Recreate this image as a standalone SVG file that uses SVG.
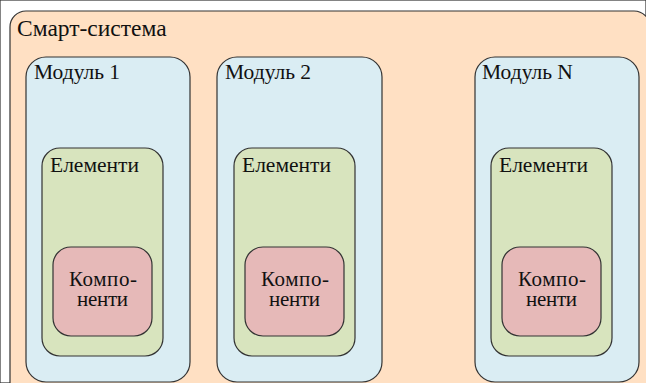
<svg xmlns="http://www.w3.org/2000/svg" width="646" height="383" viewBox="0 0 646 383">
<style>
rect{stroke:#333;stroke-width:1.2}
.sys{fill:#FFE0C3}
.mod{fill:#DAEDF3}
.el{fill:#D8E4BE}
.comp{fill:#E6B9B8}
text{font-family:"Liberation Serif","Times New Roman",serif;fill:#111;font-size:21.5px}
.t{font-size:23.5px}
.k{font-size:21px}
</style>
<rect width="646" height="383" fill="#fff" stroke="none"/>
<g id="system">
<rect class="sys" x="10" y="11" width="640" height="390" rx="16"/>
<text class="t" x="17" y="36">Смарт-система</text>
</g>
<g id="module1">
<rect class="mod" x="26" y="57" width="164" height="325" rx="20"/>
<text x="34" y="79">Модуль 1</text>
</g>
<g id="elements1">
<rect class="el" x="42" y="148" width="121" height="208" rx="18"/>
<text x="50" y="172">Елементи</text>
</g>
<g id="components1">
<rect class="comp" x="53" y="247" width="99" height="89" rx="18"/>
<text class="k"><tspan x="69" y="286" textLength="68" lengthAdjust="spacing">Компо-</tspan><tspan x="77" y="306" textLength="51" lengthAdjust="spacing">ненти</tspan></text>
</g>
<g id="module2">
<rect class="mod" x="217" y="57" width="165" height="325" rx="20"/>
<text x="225" y="79">Модуль 2</text>
</g>
<g id="elements2">
<rect class="el" x="234" y="148" width="121" height="208" rx="18"/>
<text x="242" y="172">Елементи</text>
</g>
<g id="components2">
<rect class="comp" x="245" y="247" width="99" height="89" rx="18"/>
<text class="k"><tspan x="261" y="286" textLength="68" lengthAdjust="spacing">Компо-</tspan><tspan x="269" y="306" textLength="51" lengthAdjust="spacing">ненти</tspan></text>
</g>
<g id="moduleN">
<rect class="mod" x="475" y="57" width="164" height="325" rx="20"/>
<text x="482" y="79">Модуль N</text>
</g>
<g id="elementsN">
<rect class="el" x="491" y="148" width="121" height="208" rx="18"/>
<text x="499" y="172">Елементи</text>
</g>
<g id="componentsN">
<rect class="comp" x="502" y="247" width="99" height="89" rx="18"/>
<text class="k"><tspan x="518" y="286" textLength="68" lengthAdjust="spacing">Компо-</tspan><tspan x="526" y="306" textLength="51" lengthAdjust="spacing">ненти</tspan></text>
</g>
<g id="connectors"/>
</svg>
